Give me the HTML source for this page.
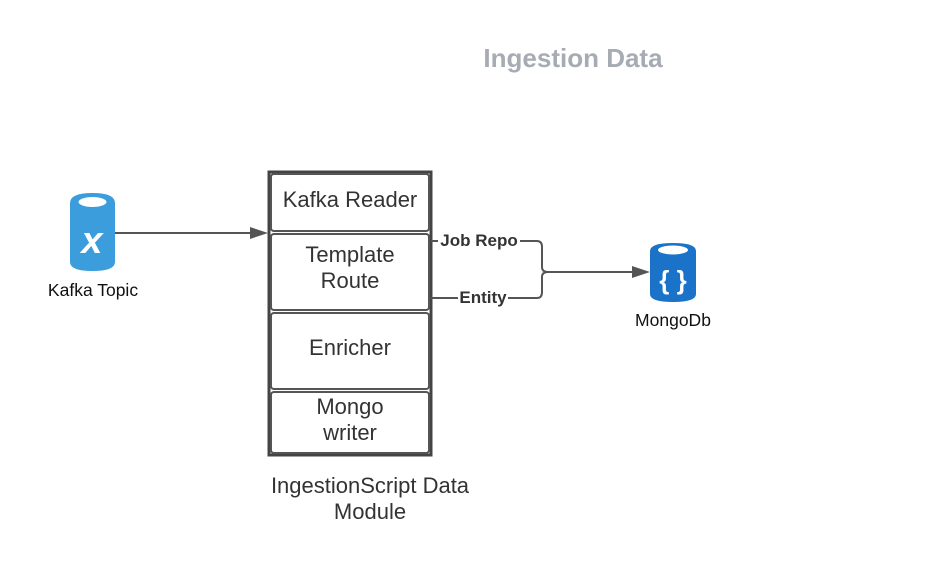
<!DOCTYPE html>
<html><head><style>body{margin:0;background:#fff}svg{display:block}text{font-family:"Liberation Sans",sans-serif}</style></head>
<body>
<svg width="931" height="573" viewBox="0 0 931 573" xmlns="http://www.w3.org/2000/svg">
<text x="573" y="67" font-size="26" font-weight="bold" fill="#a6abb4" text-anchor="middle">Ingestion Data</text>
<!-- Kafka cylinder -->
<path d="M70 203 Q70 193 92.5 193 Q115 193 115 203 L115 262 Q115 271 92.5 271 Q70 271 70 262 Z" fill="#3b9ddc"/>
<ellipse cx="92.5" cy="202" rx="14" ry="5" fill="#fff"/>
<text x="92" y="253" font-size="38" font-family="Liberation Serif" font-style="italic" font-weight="bold" fill="#fff" text-anchor="middle">x</text>
<text x="93" y="296" font-size="17.5" fill="#111" text-anchor="middle">Kafka Topic</text>
<line x1="115" y1="233" x2="256" y2="233" stroke="#555" stroke-width="2"/>
<polygon points="268,233 250,227 250,239" fill="#555"/>
<!-- module -->
<rect x="269" y="172" width="162" height="283" fill="none" stroke="#444" stroke-width="3"/>
<g fill="#fff" stroke="#555" stroke-width="2">
<rect x="271" y="174" width="158" height="57" rx="3"/>
<rect x="271" y="234" width="158" height="76" rx="3"/>
<rect x="271" y="313" width="158" height="76" rx="3"/>
<rect x="271" y="392" width="158" height="61" rx="3"/>
</g>
<g font-size="22" fill="#333" text-anchor="middle">
<text x="350" y="207">Kafka Reader</text>
<text x="350" y="262">Template</text>
<text x="350" y="288">Route</text>
<text x="350" y="355">Enricher</text>
<text x="350" y="414">Mongo</text>
<text x="350" y="440">writer</text>
<text x="370" y="493">IngestionScript Data</text>
<text x="370" y="519">Module</text>
</g>
<!-- connectors -->
<path d="M431 241 L537 241 Q542 241 542 247 L542 267 Q542 272 548 272 M431 298 L537 298 Q542 298 542 292 L542 277 Q542 272 548 272 L638 272" fill="none" stroke="#555" stroke-width="2"/>
<polygon points="650,272 632,266 632,278" fill="#555"/>
<rect x="438" y="232" width="82" height="17" fill="#fff"/>
<text x="479" y="246" font-size="17" font-weight="bold" fill="#333" text-anchor="middle">Job Repo</text>
<rect x="458" y="289" width="50" height="17" fill="#fff"/>
<text x="483" y="303" font-size="17" font-weight="bold" fill="#333" text-anchor="middle">Entity</text>
<!-- Mongo cylinder -->
<path d="M650 251 Q650 243 673 243 Q696 243 696 251 L696 294 Q696 302 673 302 Q650 302 650 294 Z" fill="#1a73c8"/>
<ellipse cx="673" cy="250" rx="15" ry="4.5" fill="#fff"/>
<text x="673" y="289" font-size="26" font-weight="bold" fill="#fff" text-anchor="middle">{ }</text>
<text x="673" y="326" font-size="17.5" fill="#111" text-anchor="middle">MongoDb</text>
</svg>
</body></html>
